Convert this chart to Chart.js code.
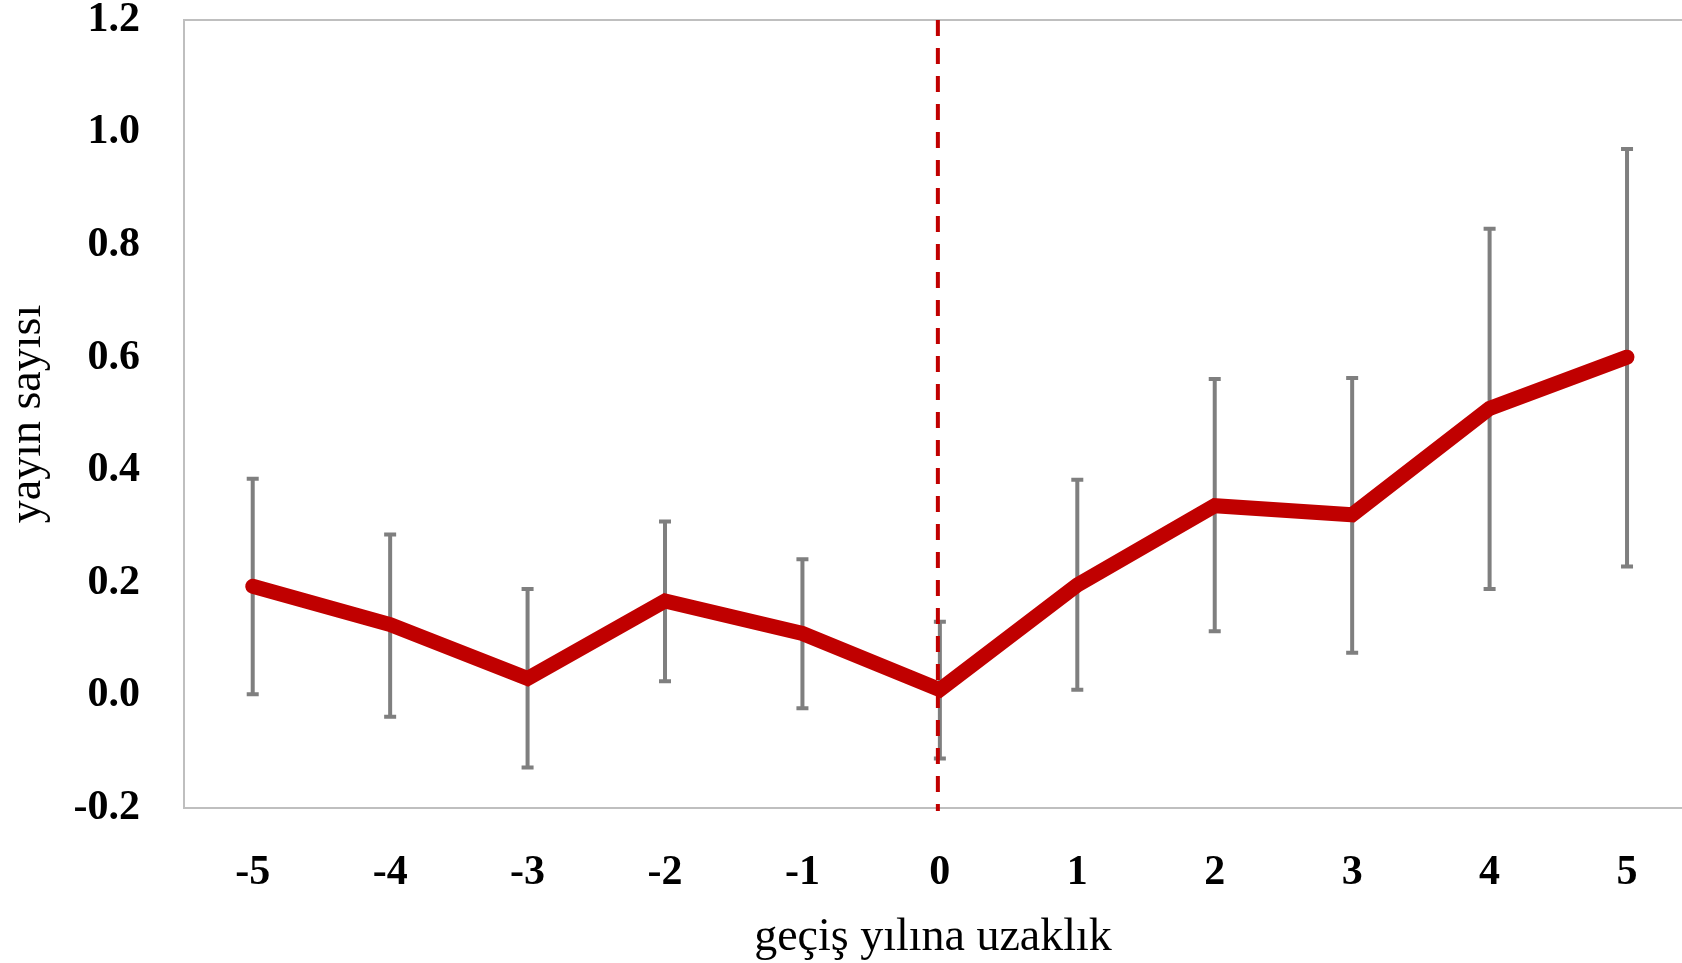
<!DOCTYPE html>
<html>
<head>
<meta charset="utf-8">
<script src="https://cdn.jsdelivr.net/npm/chart.js@4"></script>
<style>
  body { margin: 0; background: #fff; overflow: hidden; }
</style>
</head>
<body>
<canvas id="effectChart" width="1682" height="963"></canvas>
<script>
// distance to transition year, mean and error bar ends
const years = [-5, -4, -3, -2, -1, 0, 1, 2, 3, 4, 5];
const means = [0.194, 0.126, 0.030, 0.168, 0.110, 0.010, 0.196, 0.337, 0.321, 0.510, 0.601];
const upper = [0.385, 0.286, 0.189, 0.309, 0.242, 0.131, 0.383, 0.562, 0.564, 0.829, 0.971];
const lower = [0.002, -0.038, -0.128, 0.025, -0.023, -0.112, 0.010, 0.114, 0.076, 0.189, 0.229];
const yTicks = [-0.2, 0, 0.2, 0.4, 0.6, 0.8, 1.0, 1.2];
const eventYear = 0;

const tickFont = { family: 'Liberation Serif', size: 42, weight: 'bold' };
const titleFont = { family: 'Liberation Serif', size: 46 };

const errorBars = {
    id: 'errorBars',
    beforeDatasetsDraw(chart) {
        const { ctx, chartArea, scales: { x, y } } = chart;
        ctx.save();
        // top frame line
        ctx.strokeStyle = '#bfbfbf';
        ctx.lineWidth = 2;
        ctx.beginPath();
        ctx.moveTo(chartArea.left, chartArea.top);
        ctx.lineTo(chartArea.right, chartArea.top);
        ctx.stroke();

        ctx.strokeStyle = '#7f7f7f';
        ctx.lineWidth = 4;
        years.forEach((yr, i) => {
            let px = x.getPixelForValue(yr);
            let top = y.getPixelForValue(upper[i]);
            let bot = y.getPixelForValue(lower[i]);
            ctx.beginPath();
            ctx.moveTo(px, top); ctx.lineTo(px, bot);
            ctx.moveTo(px - 6, top); ctx.lineTo(px + 6, top);
            ctx.moveTo(px - 6, bot); ctx.lineTo(px + 6, bot);
            ctx.stroke();
        });

        // transition year marker
        let ex = x.getPixelForValue(eventYear) - 2;
        ctx.strokeStyle = '#c00000';
        ctx.lineWidth = 4;
        ctx.setLineDash([16, 12]);
        ctx.beginPath();
        ctx.moveTo(ex, chartArea.top);
        ctx.lineTo(ex, chartArea.bottom + 3);
        ctx.stroke();
        ctx.restore();
    }
};

function noPad(axis) {
    axis.paddingTop = 0;
    axis.paddingBottom = 0;
    axis.paddingLeft = 0;
    axis.paddingRight = 0;
}

new Chart(document.getElementById('effectChart'), {
    type: 'line',
    data: {
        datasets: [{
            data: years.map((yr, i) => ({ x: yr, y: means[i] })),
            borderColor: '#c00000',
            borderWidth: 15,
            borderCapStyle: 'round',
            borderJoinStyle: 'miter',
            pointRadius: 0,
            tension: 0
        }]
    },
    options: {
        responsive: false,
        devicePixelRatio: 1,
        animation: false,
        layout: { padding: { top: 20, left: 0, right: 0, bottom: 0 } },
        plugins: { legend: { display: false }, tooltip: { enabled: false } },
        scales: {
            x: {
                type: 'linear',
                min: -5.5,
                max: 5.4,
                afterBuildTicks: axis => { axis.ticks = years.map(v => ({ value: v })); },
                afterFit: axis => { axis.height = 155; noPad(axis); },
                grid: { display: false, drawTicks: false },
                border: { display: true, color: '#bfbfbf', width: 2 },
                ticks: { color: '#000', font: tickFont, padding: 40, maxRotation: 0, autoSkip: false },
                title: { display: true, text: 'geçiş yılına uzaklık', color: '#000', font: titleFont, padding: { top: 0, bottom: -3 } }
            },
            y: {
                min: -0.2,
                max: 1.2,
                afterBuildTicks: axis => { axis.ticks = yTicks.map(v => ({ value: v })); },
                afterFit: axis => { axis.width = 184; noPad(axis); },
                grid: { display: false, drawTicks: false },
                border: { display: true, color: '#bfbfbf', width: 2 },
                ticks: { color: '#000', font: tickFont, padding: 44, callback: v => v.toFixed(1) },
                title: { display: true, text: 'yayın sayısı', color: '#000', font: titleFont, padding: { top: 0, bottom: 0 } }
            }
        }
    },
    plugins: [errorBars]
});
</script>
</body>
</html>
